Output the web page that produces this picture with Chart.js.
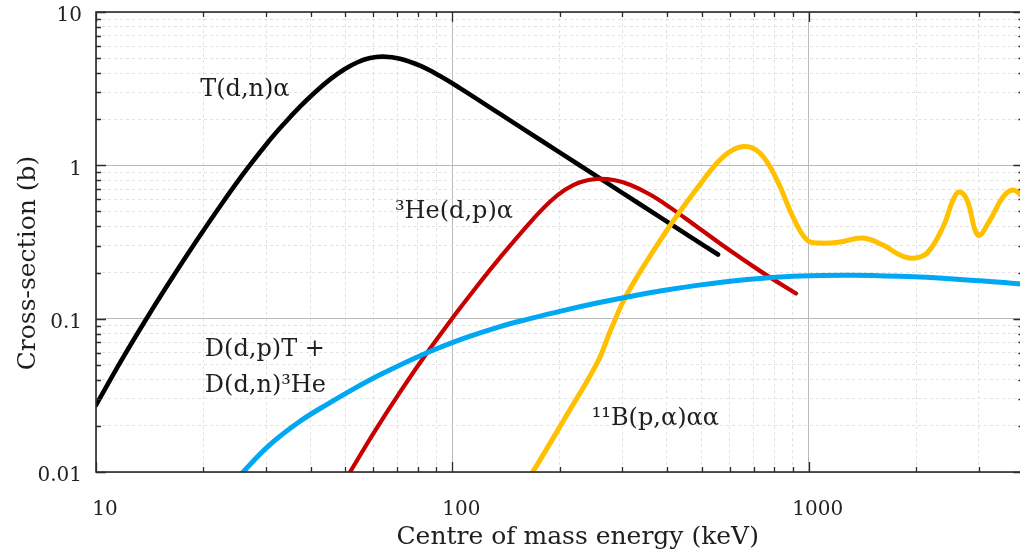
<!DOCTYPE html>
<html>
<head>
<meta charset="utf-8">
<script src="https://cdn.jsdelivr.net/npm/chart.js@4/dist/chart.umd.min.js"></script>
<style>
  html, body { margin: 0; padding: 0; background: #fff; overflow: hidden; }
  #wrap { width: 1030px; height: 559px; }
</style>
</head>
<body>
<div id="wrap"><canvas id="c" width="1030" height="559"></canvas></div>
<script>
// Fusion cross-sections vs centre-of-mass energy (keV, barns)

const dtEnergy = [10, 11.75, 13.81, 16.23, 19.08, 22.42, 26.36, 30.38, 33.7, 37.36, 41.17, 45.36, 49.66, 53.99,
                  58.72, 63.88, 71.29, 81.11, 92.3, 105, 136, 176.1, 228, 295.3, 382.3, 464.2, 556.2];
const dtSigma  = [0.0273, 0.0528, 0.0987, 0.1792, 0.3183, 0.5515, 0.929, 1.415, 1.868, 2.412, 2.998, 3.634, 4.216, 4.685,
                  5.005, 5.119, 4.96, 4.464, 3.824, 3.188, 2.164, 1.469, 0.997, 0.6767, 0.4593, 0.3431, 0.2619];

const dhe3Energy = [49.32, 51.6, 60.65, 71.29, 84.86, 100.4, 117.2, 136, 165.1, 187.8, 207, 228, 254.5, 285.9,
                    315, 358.4, 407.8, 485.7, 601, 743.9, 920.6];
const dhe3Sigma  = [0.00834, 0.00998, 0.01855, 0.0332, 0.0599, 0.102, 0.1627, 0.25, 0.4234, 0.578, 0.692, 0.7746, 0.8153, 0.7995,
                    0.7468, 0.645, 0.532, 0.3977, 0.278, 0.1989, 0.146];

const ddEnergy = [24.71, 25.85, 30.77, 37.36, 45.36, 53.31, 62.66, 82.71, 107.1, 136, 165.1, 204.3, 254.5, 315,
                  389.9, 485.7, 601, 743.9, 944.7, 1305, 1803, 2490, 4000];
const ddSigma  = [0.0088, 0.00998, 0.01507, 0.02142, 0.02836, 0.03527, 0.04305, 0.05841, 0.07405, 0.08882, 0.1, 0.1129, 0.1264, 0.1396,
                  0.1525, 0.1649, 0.1754, 0.1837, 0.1899, 0.1919, 0.1888, 0.1823, 0.1681];

const pbEnergy = [162, 168, 207, 254.5, 278, 309, 395, 489, 574, 654, 729, 814, 903, 988, 1075, 1223, 1419, 1615,
                  1803, 1961, 2147, 2380, 2539, 2639, 2779, 2983, 3224, 3506, 3741, 4000];
const pbSigma  = [0.00885, 0.00998, 0.0225, 0.0513, 0.0842, 0.145, 0.362, 0.722, 1.133, 1.326, 1.203, 0.802, 0.46, 0.326, 0.311, 0.316, 0.336, 0.302,
                  0.26, 0.248, 0.268, 0.396, 0.594, 0.669, 0.594, 0.351, 0.44, 0.621, 0.69, 0.62];

const xTickValues = [10, 20, 30, 40, 50, 60, 70, 80, 90,
                     100, 200, 300, 400, 500, 600, 700, 800, 900,
                     1000, 2000, 3000];
const yTickValues = [0.01, 0.02, 0.03, 0.04, 0.05, 0.06, 0.07, 0.08, 0.09,
                     0.1, 0.2, 0.3, 0.4, 0.5, 0.6, 0.7, 0.8, 0.9,
                     1, 2, 3, 4, 5, 6, 7, 8, 9, 10];

// reaction labels, anchored in data space (energy, cross-section at baseline)
const reactionLabels = [
  { text: 'T(d,n)α',      e: 19.6, s: 2.83 },
  { text: '³He(d,p)α',    e: 69,   s: 0.453 },
  { text: 'D(d,p)T +',    e: 20.2, s: 0.057 },
  { text: 'D(d,n)³He',    e: 20.2, s: 0.0332 },
  { text: '¹¹B(p,α)αα',   e: 246,  s: 0.0202 }
];

const xTitle = 'Centre of mass energy (keV)';
const yTitle = 'Cross-section (b)';

const SERIF = '"DejaVu Serif", "Liberation Serif", serif';

const pairs = (xs, ys) => xs.map((v, i) => ({ x: v, y: ys[i] }));
const isDecade = v => Math.abs(Math.log10(v) - Math.round(Math.log10(v))) < 1e-9;

function series(label, xs, ys, color, width) {
  return {
    label,
    data: pairs(xs, ys),
    showLine: true,
    borderColor: color,
    backgroundColor: color,
    borderWidth: width,
    pointRadius: 0,
    pointHoverRadius: 0,
    tension: 0.4,
    borderCapStyle: 'round',
    borderJoinStyle: 'round',
    clip: 0
  };
}

// Frame on all four sides with inward tick marks
const frameTicks = {
  id: 'frameTicks',
  afterDraw(chart) {
    const { ctx, chartArea: a, scales: { x, y } } = chart;
    ctx.save();
    ctx.strokeStyle = '#2b2b2b';
    ctx.lineWidth = 1.6;
    ctx.strokeRect(a.left, a.top, a.right - a.left, a.bottom - a.top);
    ctx.lineWidth = 1.3;
    ctx.beginPath();
    x.ticks.forEach(t => {
      const px = Math.round(x.getPixelForValue(t.value)) + 0.5;
      const len = isDecade(t.value) ? 10 : 5;
      ctx.moveTo(px, a.bottom); ctx.lineTo(px, a.bottom - len);
      ctx.moveTo(px, a.top); ctx.lineTo(px, a.top + len);
    });
    y.ticks.forEach(t => {
      const py = Math.round(y.getPixelForValue(t.value)) + 0.5;
      const len = isDecade(t.value) ? 10 : 5;
      ctx.moveTo(a.left, py); ctx.lineTo(a.left + len, py);
      ctx.moveTo(a.right, py); ctx.lineTo(a.right - len, py);
    });
    ctx.stroke();
    ctx.restore();
  }
};

// Reaction names next to their curves, and the axis titles
const textLayer = {
  id: 'textLayer',
  afterDatasetsDraw(chart) {
    const { ctx, chartArea: a, scales: { x, y } } = chart;
    ctx.save();
    ctx.fillStyle = '#1e1e1e';
    ctx.font = '24px ' + SERIF;
    ctx.textAlign = 'left';
    ctx.textBaseline = 'alphabetic';
    reactionLabels.forEach(l => {
      ctx.fillText(l.text, x.getPixelForValue(l.e), y.getPixelForValue(l.s));
    });

    ctx.font = '25px ' + SERIF;
    ctx.textAlign = 'center';
    ctx.fillText(xTitle, (a.left + a.right) / 2 + 18, a.bottom + 72);

    ctx.translate(a.left - 61, (a.top + a.bottom) / 2 + 21);
    ctx.rotate(-Math.PI / 2);
    ctx.fillText(yTitle, 0, 0);
    ctx.restore();
  }
};

const gridColor = ctx => (ctx.tick && isDecade(ctx.tick.value)) ? '#b9b9b9' : '#e2e2e2';
const gridDash = ctx => (ctx.tick && !isDecade(ctx.tick.value)) ? [3, 3] : [];

new Chart(document.getElementById('c'), {
  type: 'scatter',
  data: {
    datasets: [
      series('D(d,p)T + D(d,n)³He', ddEnergy, ddSigma, '#00a8f3', 5),
      series('¹¹B(p,α)αα', pbEnergy, pbSigma, '#ffc000', 5),
      series('³He(d,p)α', dhe3Energy, dhe3Sigma, '#c80000', 4.2),
      series('T(d,n)α', dtEnergy, dtSigma, '#000000', 4.6)
    ]
  },
  options: {
    responsive: false,
    devicePixelRatio: 1,
    animation: false,
    layout: { padding: { left: 0, top: 12, right: 6.6, bottom: 0 } },
    plugins: {
      legend: { display: false },
      tooltip: { enabled: false },
      title: { display: false }
    },
    scales: {
      x: {
        type: 'logarithmic',
        min: 10,
        max: 4000,
        afterBuildTicks: s => { s.ticks = xTickValues.map(v => ({ value: v })); },
        afterFit: s => { s.height = 87; s.paddingLeft = 0; s.paddingRight = 0; s.paddingTop = 0; s.paddingBottom = 0; },
        grid: { color: gridColor, lineWidth: 1, drawTicks: false },
        border: { display: false, dash: gridDash },
        ticks: {
          autoSkip: false,
          maxRotation: 0,
          minRotation: 0,
          padding: 26,
          labelOffset: 9,
          color: '#222',
          font: { family: SERIF, size: 20 },
          callback: v => isDecade(v) ? String(v) : ''
        }
      },
      y: {
        type: 'logarithmic',
        min: 0.01,
        max: 10,
        afterBuildTicks: s => { s.ticks = yTickValues.map(v => ({ value: v })); },
        afterFit: s => { s.width = 96; s.paddingLeft = 0; s.paddingRight = 0; s.paddingTop = 0; s.paddingBottom = 0; },
        grid: { color: gridColor, lineWidth: 1, drawTicks: false },
        border: { display: false, dash: gridDash },
        ticks: {
          autoSkip: false,
          padding: 14,
          labelOffset: 4,
          color: '#222',
          font: { family: SERIF, size: 20 },
          callback: v => isDecade(v) ? String(v) : ''
        }
      }
    }
  },
  plugins: [frameTicks, textLayer]
});
</script>
</body>
</html>
